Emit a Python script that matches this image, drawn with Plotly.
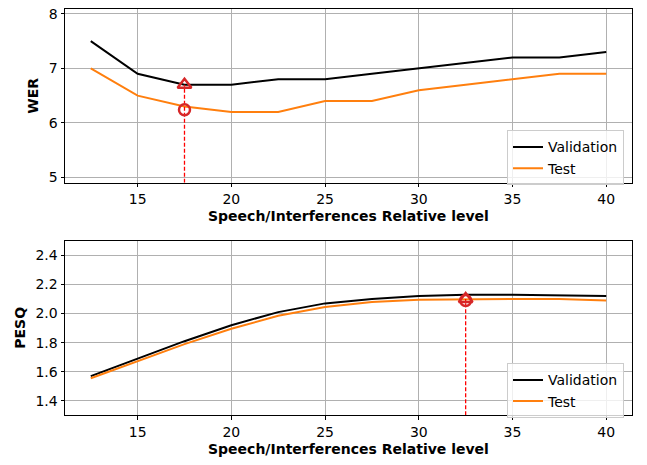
import plotly.graph_objects as go

levels = [12.5, 15, 17.5, 20, 22.5, 25, 27.5, 30, 32.5, 35, 37.5, 40]
wer_val = [7.5, 6.9, 6.7, 6.7, 6.8, 6.8, 6.9, 7.0, 7.1, 7.2, 7.2, 7.3]
wer_test = [7.0, 6.5, 6.3, 6.2, 6.2, 6.4, 6.4, 6.6, 6.7, 6.8, 6.9, 6.9]
pesq_val = [1.57, 1.69, 1.81, 1.92, 2.01, 2.07, 2.10, 2.12, 2.13, 2.13, 2.125, 2.12]
pesq_test = [1.555, 1.67, 1.79, 1.895, 1.985, 2.045, 2.08, 2.095, 2.10, 2.10, 2.10, 2.09]

wer_best_x = 17.5
wer_best_val = 6.7
wer_best_test = 6.24
pesq_best_x = 32.5
pesq_best_val = 2.10
pesq_best_test = 2.09

x_ticks = [15, 20, 25, 30, 35, 40]
wer_ticks = [5, 6, 7, 8]
pesq_ticks = [1.4, 1.6, 1.8, 2.0, 2.2, 2.4]

W, H = 647, 465
FONT = "DejaVu Sans"
FS = 14
BLACK = "#000000"
ORANGE = "#ff7f0e"
RED = "#d62728"

fig = go.Figure()

def add_panel(xa, ya, val, test, bx, bv, bt, ymin, leg):
    fig.add_trace(go.Scatter(x=levels, y=val, mode="lines", name="Validation",
                             line=dict(color=BLACK, width=2), xaxis=xa, yaxis=ya,
                             legend=leg))
    fig.add_trace(go.Scatter(x=levels, y=test, mode="lines", name="Test",
                             line=dict(color=ORANGE, width=2), xaxis=xa, yaxis=ya,
                             legend=leg))
    fig.add_trace(go.Scatter(x=[bx, bx], y=[ymin, bv], mode="lines",
                             line=dict(color="#ff0000", width=1.3, dash="4px,2px"),
                             xaxis=xa, yaxis=ya, showlegend=False, hoverinfo="skip"))
    fig.add_trace(go.Scatter(x=[bx], y=[bv], mode="markers",
                             marker=dict(symbol="triangle-up-open", size=12, color=RED,
                                         line=dict(width=2.5, color=RED)),
                             xaxis=xa, yaxis=ya, showlegend=False))
    fig.add_trace(go.Scatter(x=[bx], y=[bt], mode="markers",
                             marker=dict(symbol="circle-open", size=11, color=RED,
                                         line=dict(width=2.5, color=RED)),
                             xaxis=xa, yaxis=ya, showlegend=False))

add_panel("x", "y", wer_val, wer_test, wer_best_x, wer_best_val, wer_best_test, 4.904, "legend")
add_panel("x2", "y2", pesq_val, pesq_test, pesq_best_x, pesq_best_val, pesq_best_test, 1.30, "legend2")

xl, xr = 65 / W, 632 / W
top_dom = [1 - 182 / H, 1 - 6 / H]
bot_dom = [1 - 417.7 / H, 1 - 241 / H]

axis_common = dict(showline=True, linecolor=BLACK, linewidth=1, mirror=True,
                   ticks="outside", ticklen=3.5, tickwidth=0.8, tickcolor=BLACK,
                   showgrid=True, gridcolor="#b0b0b0", gridwidth=0.8,
                   zeroline=False, tickfont=dict(family=FONT, size=FS, color=BLACK))

leg_common = dict(xanchor="right", yanchor="top",
                  bgcolor="rgba(255,255,255,0.8)", bordercolor="#cccccc", borderwidth=1,
                  font=dict(family=FONT, size=FS, color=BLACK), itemwidth=30)

fig.update_layout(
    width=W, height=H,
    margin=dict(l=0, r=0, t=0, b=0),
    paper_bgcolor="white", plot_bgcolor="white",
    font=dict(family=FONT, size=FS, color=BLACK),
    xaxis=dict(domain=[xl, xr], range=[11.125, 41.375], tickvals=x_ticks,
               anchor="y", **axis_common),
    yaxis=dict(domain=top_dom, range=[4.904, 8.09], tickvals=wer_ticks,
               anchor="x", **axis_common),
    xaxis2=dict(domain=[xl, xr], range=[11.125, 41.375], tickvals=x_ticks,
                anchor="y2", **axis_common),
    yaxis2=dict(domain=bot_dom, range=[1.30, 2.50], tickvals=pesq_ticks,
                tickformat=".1f", anchor="x2", **axis_common),
    legend=dict(x=624 / W, y=1 - 129 / H, **leg_common),
    legend2=dict(x=624 / W, y=1 - 365 / H, **leg_common),
    showlegend=True,
)

xtitle = "<b>Speech/Interferences Relative level</b>"
fig.add_annotation(text=xtitle, x=348 / W, y=1 - 216 / H, xref="paper", yref="paper",
                   showarrow=False, font=dict(family=FONT, size=FS, color=BLACK),
                   xanchor="center", yanchor="middle")
fig.add_annotation(text=xtitle, x=348 / W, y=1 - 452 / H, xref="paper", yref="paper",
                   showarrow=False, font=dict(family=FONT, size=FS, color=BLACK),
                   xanchor="center", yanchor="middle")
fig.add_annotation(text="<b>WER</b>", x=33 / W, y=1 - 94 / H, xref="paper", yref="paper",
                   showarrow=False, textangle=-90, font=dict(family=FONT, size=FS, color=BLACK),
                   xanchor="center", yanchor="middle")
fig.add_annotation(text="<b>PESQ</b>", x=20 / W, y=1 - 329 / H, xref="paper", yref="paper",
                   showarrow=False, textangle=-90, font=dict(family=FONT, size=FS, color=BLACK),
                   xanchor="center", yanchor="middle")

fig.write_html("out.html", config={"displayModeBar": False},
               post_script="document.body.style.margin='0';document.body.style.overflow='hidden';")
